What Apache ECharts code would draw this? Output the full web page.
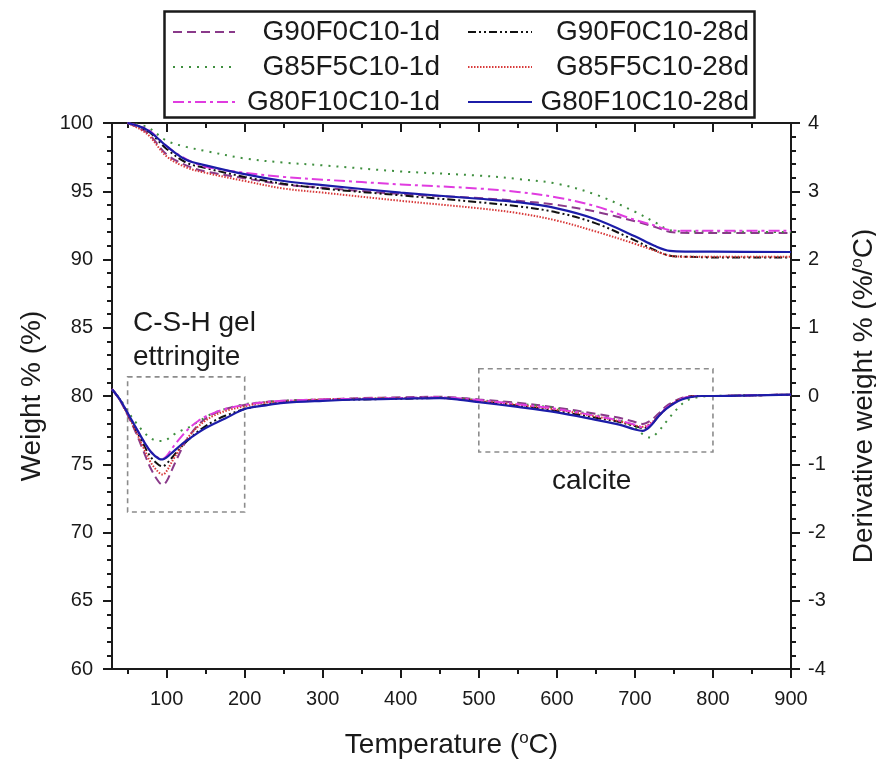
<!DOCTYPE html>
<html><head><meta charset="utf-8">
<script src="https://cdn.jsdelivr.net/npm/echarts@6/dist/echarts.min.js"></script>
<style>html,body{margin:0;padding:0;background:#fff}#c{width:876px;height:767px}</style>
</head><body><div id="c"></div>
<script>
// ---------- data ----------
const names = ['G90F0C10-1d','G90F0C10-28d','G85F5C10-1d','G85F5C10-28d','G80F10C10-1d','G80F10C10-28d'];

const tempW = [50, 75, 100, 125, 150, 200, 250, 300, 400, 500, 550, 600, 650, 700, 725, 745, 770, 800, 900];
const wG90F0_1d  = [100, 99.3, 97.7, 96.9, 96.45, 95.95, 95.5, 95.25, 94.8, 94.5, 94.3, 94.0, 93.5, 92.8, 92.4, 92.02, 91.95, 91.95, 91.95];
const wG90F0_28d = [100, 99.45, 98.1, 97.1, 96.7, 96.05, 95.55, 95.2, 94.7, 94.2, 93.9, 93.45, 92.65, 91.4, 90.7, 90.28, 90.2, 90.15, 90.15];
const wG85F5_1d  = [100, 99.7, 98.7, 98.25, 97.95, 97.4, 97.1, 96.9, 96.45, 96.15, 95.9, 95.55, 94.75, 93.5, 92.75, 92.15, 92.05, 92.05, 92.0];
const wG85F5_28d = [100, 99.2, 97.55, 96.75, 96.35, 95.75, 95.2, 94.9, 94.3, 93.75, 93.4, 92.85, 92.05, 91.15, 90.65, 90.28, 90.2, 90.2, 90.2];
const wG80F10_1d = [100, 99.55, 98.3, 97.35, 96.8, 96.35, 96.05, 95.85, 95.5, 95.2, 94.95, 94.55, 93.9, 92.9, 92.5, 92.15, 92.1, 92.1, 92.1];
const wG80F10_28d= [100, 99.5, 98.3, 97.3, 96.9, 96.25, 95.75, 95.45, 94.9, 94.45, 94.2, 93.75, 92.95, 91.7, 91.0, 90.63, 90.58, 90.57, 90.55];

const tempD = [30, 40, 50, 60, 70, 80, 90, 95, 100, 105, 110, 120, 130, 140, 150, 160, 175, 200, 225, 250, 300, 350, 400, 450, 480, 500, 550, 600, 650, 680, 700, 710, 720, 730, 740, 750, 760, 770, 785, 800, 850, 900];
const dG90F0_1d  = [0.10,-0.06,-0.28,-0.52,-0.80,-1.07,-1.26,-1.30,-1.25,-1.13,-1.00,-0.76,-0.57,-0.43,-0.33,-0.26,-0.19,-0.13,-0.09,-0.07,-0.05,-0.03,-0.02,-0.01,-0.03,-0.05,-0.10,-0.17,-0.26,-0.32,-0.38,-0.41,-0.36,-0.26,-0.15,-0.08,-0.03,0.00,0.00,0.00,0.01,0.02];
const dG90F0_28d = [0.10,-0.05,-0.26,-0.48,-0.70,-0.90,-1.01,-1.03,-0.99,-0.93,-0.86,-0.73,-0.62,-0.52,-0.44,-0.37,-0.29,-0.19,-0.13,-0.09,-0.06,-0.05,-0.04,-0.03,-0.05,-0.08,-0.14,-0.22,-0.32,-0.38,-0.44,-0.47,-0.43,-0.30,-0.18,-0.10,-0.04,-0.01,0.00,0.00,0.01,0.02];
const dG85F5_1d  = [0.10,-0.04,-0.22,-0.38,-0.52,-0.62,-0.66,-0.66,-0.64,-0.60,-0.56,-0.50,-0.45,-0.38,-0.31,-0.25,-0.19,-0.12,-0.09,-0.07,-0.05,-0.04,-0.03,-0.02,-0.04,-0.06,-0.11,-0.18,-0.28,-0.36,-0.46,-0.56,-0.61,-0.52,-0.38,-0.24,-0.12,-0.05,-0.01,0.00,0.01,0.02];
const dG85F5_28d = [0.10,-0.06,-0.27,-0.50,-0.75,-0.98,-1.12,-1.15,-1.10,-1.00,-0.90,-0.72,-0.57,-0.45,-0.36,-0.29,-0.22,-0.15,-0.10,-0.08,-0.05,-0.04,-0.03,-0.03,-0.05,-0.07,-0.13,-0.20,-0.30,-0.37,-0.43,-0.45,-0.40,-0.30,-0.18,-0.10,-0.04,-0.01,0.00,0.00,0.01,0.02];
const dG80F10_1d = [0.10,-0.05,-0.25,-0.45,-0.65,-0.82,-0.91,-0.92,-0.88,-0.80,-0.72,-0.58,-0.46,-0.37,-0.30,-0.25,-0.19,-0.13,-0.09,-0.07,-0.05,-0.04,-0.03,-0.02,-0.04,-0.06,-0.12,-0.19,-0.29,-0.36,-0.42,-0.46,-0.42,-0.30,-0.18,-0.10,-0.04,-0.01,0.00,0.00,0.01,0.02];
const dG80F10_28d= [0.10,-0.05,-0.25,-0.45,-0.65,-0.82,-0.92,-0.93,-0.90,-0.85,-0.80,-0.70,-0.62,-0.54,-0.47,-0.41,-0.33,-0.19,-0.14,-0.10,-0.07,-0.05,-0.04,-0.03,-0.06,-0.09,-0.16,-0.24,-0.35,-0.42,-0.49,-0.51,-0.44,-0.30,-0.19,-0.11,-0.05,-0.02,0.00,0.00,0.01,0.02];

const xMajorTicks = [100, 200, 300, 400, 500, 600, 700, 800, 900];
const xMinorTicks = [50, 150, 250, 350, 450, 550, 650, 750, 850];
const annotations = ['C-S-H gel', 'ettringite', 'calcite'];
// boxes in data units (temperature, weight %)
const box1 = [[50, 81.4], [200, 71.5]];
const box2 = [[500, 82.0], [800, 75.9]];

// ---------- styles ----------
const FONT = "'Liberation Sans', Arial, sans-serif";
const styleOf = {
  'G90F0C10-1d':   {color: '#8a3a8a', type: [9, 5]},
  'G90F0C10-28d':  {color: '#111111', type: [8, 3, 2, 3, 2, 3]},
  'G85F5C10-1d':   {color: '#3f8f3f', type: [2, 6]},
  'G85F5C10-28d':  {color: '#d83a3a', type: [1.5, 1.5]},
  'G80F10C10-1d':  {color: '#e03ce0', type: [11, 4, 3, 4]},
  'G80F10C10-28d': {color: '#1c1ca8', type: 'solid'}
};
const wData = {'G90F0C10-1d': wG90F0_1d, 'G90F0C10-28d': wG90F0_28d, 'G85F5C10-1d': wG85F5_1d, 'G85F5C10-28d': wG85F5_28d, 'G80F10C10-1d': wG80F10_1d, 'G80F10C10-28d': wG80F10_28d};
const dData = {'G90F0C10-1d': dG90F0_1d, 'G90F0C10-28d': dG90F0_28d, 'G85F5C10-1d': dG85F5_1d, 'G85F5C10-28d': dG85F5_28d, 'G80F10C10-1d': dG80F10_1d, 'G80F10C10-28d': dG80F10_28d};
const zip = (xs, ys) => xs.map((x, i) => [x, ys[i]]);

const series = [];
names.forEach(n => {
  const st = styleOf[n];
  const ls = {color: st.color, type: st.type, width: n === 'G80F10C10-28d' ? 2.2 : 2};
  series.push({name: n, type: 'line', xAxisIndex: 0, yAxisIndex: 0, data: zip(tempW, wData[n]),
    symbol: 'none', smooth: 0.35, lineStyle: ls, itemStyle: {color: st.color}, z: n === 'G80F10C10-28d' ? 5 : 3});
  series.push({name: n, type: 'line', xAxisIndex: 0, yAxisIndex: 1, data: zip(tempD, dData[n]),
    symbol: 'none', smooth: 0.35, lineStyle: ls, itemStyle: {color: st.color}, z: n === 'G80F10C10-28d' ? 5 : 3});
});
const boxStyle = {color: 'rgba(0,0,0,0)', borderColor: '#8c8c8c', borderWidth: 1.6, borderType: [5, 4]};
series.push({type: 'line', xAxisIndex: 0, yAxisIndex: 0, data: [], silent: true,
  markArea: {silent: true, itemStyle: boxStyle, data: [
    [{coord: box1[0]}, {coord: box1[1]}],
    [{coord: box2[0]}, {coord: box2[1]}]
  ]}});

const axisCol = '#1a1a1a';
const lineS = {color: axisCol, width: 2};
const supRich = {s: {fontSize: 17, fontFamily: FONT, color: axisCol, padding: [0, 0, 13, 0]}};
const nameStyle = {fontSize: 28, fontFamily: FONT, color: axisCol, rich: supRich};
const legendText = w => ({fontSize: 28, fontFamily: FONT, color: axisCol,
  rich: {a: {width: w, align: 'right', fontSize: 28, fontFamily: FONT, color: axisCol, lineHeight: 29}}});

const xBase = {type: 'value', min: 30, max: 900, splitLine: {show: false}, gridIndex: 0};
const chart = echarts.init(document.getElementById('c'), null, {renderer: 'canvas'});
chart.setOption({
  animation: false,
  backgroundColor: '#ffffff',
  textStyle: {fontFamily: FONT},
  grid: {left: 112, right: 85, top: 123, bottom: 98, containLabel: false, outerBoundsMode: 'none'},
  legend: [
    {orient: 'vertical', left: 167, top: 13, itemWidth: 62, itemHeight: 14, itemGap: 7,
     data: [names[0], names[2], names[4]], selectedMode: false, itemStyle: {opacity: 0},
     formatter: n => '{a|' + n + '}', textStyle: legendText(200)},
    {orient: 'vertical', left: 462, top: 13, itemWidth: 64, itemHeight: 14, itemGap: 7,
     data: [names[1], names[3], names[5]], selectedMode: false, itemStyle: {opacity: 0},
     formatter: n => '{a|' + n + '}', textStyle: legendText(212)}
  ],
  xAxis: [
    Object.assign({}, xBase, {position: 'bottom',
      name: 'Temperature ({s|o}C)', nameLocation: 'middle', nameGap: 61, nameTextStyle: nameStyle,
      axisLine: {onZero: false, lineStyle: lineS},
      axisTick: {show: true, customValues: xMajorTicks, length: 9, lineStyle: lineS},
      axisLabel: {customValues: xMajorTicks, fontSize: 20, margin: 20, color: axisCol, fontFamily: FONT}}),
    Object.assign({}, xBase, {position: 'bottom',
      axisLine: {show: false, onZero: false},
      axisTick: {show: true, customValues: xMinorTicks, length: 5, lineStyle: lineS},
      axisLabel: {show: false}}),
    Object.assign({}, xBase, {position: 'top',
      axisLine: {onZero: false, lineStyle: lineS},
      axisTick: {show: true, inside: true, customValues: xMajorTicks, length: 9, lineStyle: lineS},
      axisLabel: {show: false}}),
    Object.assign({}, xBase, {position: 'top',
      axisLine: {show: false, onZero: false},
      axisTick: {show: true, inside: true, customValues: xMinorTicks, length: 5, lineStyle: lineS},
      axisLabel: {show: false}})
  ],
  yAxis: [
    {type: 'value', position: 'left', min: 60, max: 100, interval: 5,
     name: 'Weight % (%)', nameLocation: 'middle', nameGap: 66, nameTextStyle: nameStyle,
     axisLine: {show: true, onZero: false, lineStyle: lineS},
     axisTick: {show: true, length: 9, lineStyle: lineS},
     minorTick: {show: true, splitNumber: 5, length: 5, lineStyle: {color: axisCol, width: 2}},
     axisLabel: {fontSize: 20, margin: 19, color: axisCol, fontFamily: FONT},
     splitLine: {show: false}},
    {type: 'value', position: 'right', min: -4, max: 4, interval: 1,
     name: 'Derivative weight % (%/{s|o}C)', nameLocation: 'middle', nameGap: 58, nameTextStyle: nameStyle,
     axisLine: {show: true, onZero: false, lineStyle: lineS},
     axisTick: {show: true, length: 9, lineStyle: lineS},
     minorTick: {show: true, splitNumber: 5, length: 5, lineStyle: {color: axisCol, width: 2}},
     axisLabel: {fontSize: 20, margin: 17, color: axisCol, fontFamily: FONT},
     splitLine: {show: false}}
  ],
  graphic: [
    {type: 'rect', left: 162, top: 9, shape: {width: 590, height: 106}, style: {fill: 'none', stroke: '#1a1a1a', lineWidth: 2.5}, z: 10},
    {type: 'text', left: 133, top: 309, style: {text: annotations[0], font: '28px ' + FONT, fill: axisCol}},
    {type: 'text', left: 133, top: 343, style: {text: annotations[1], font: '28px ' + FONT, fill: axisCol}},
    {type: 'text', left: 552, top: 467, style: {text: annotations[2], font: '28px ' + FONT, fill: axisCol}}
  ],
  series: series
});
</script></body></html>
